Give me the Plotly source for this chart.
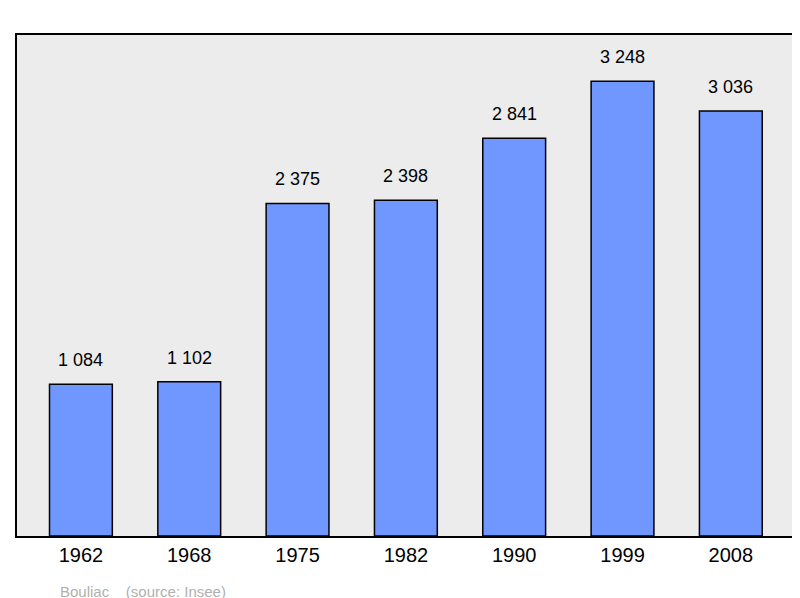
import plotly.graph_objects as go

years = ["1962", "1968", "1975", "1982", "1990", "1999", "2008"]
population = [1084, 1102, 2375, 2398, 2841, 3248, 3036]
labels = ["1 084", "1 102", "2 375", "2 398", "2 841", "3 248", "3 036"]

xs = list(range(len(years)))
fig = go.Figure(go.Bar(
    x=xs, y=population, width=0.58,
    marker=dict(color="#7097ff", line=dict(color="black", width=1.5)),
))
ann = [dict(x=x, y=v, text=t, xref="x", yref="y", showarrow=False, yanchor="bottom",
            yshift=12, font=dict(size=18, color="black", family="Liberation Sans"))
       for x, v, t in zip(xs, population, labels)]
ann.append(dict(text="Bouliac &nbsp;&nbsp; (source: Insee)", xref="paper", yref="paper",
                x=0.052, y=-0.11, xanchor="left", yanchor="middle", showarrow=False,
                font=dict(size=15, color="#b0b0b0", family="Liberation Sans")))
fig.update_layout(
    width=800, height=598, margin=dict(l=9, r=10, t=27, b=70, autoexpand=False),
    paper_bgcolor="white", plot_bgcolor="#ececec", showlegend=False,
    xaxis=dict(range=[-0.59, 6.62], tickvals=xs, ticktext=years, automargin=False,
               tickfont=dict(size=20, color="black", family="Liberation Sans"),
               showgrid=False, zeroline=False, ticks="", showline=True, linecolor="black",
               linewidth=2, mirror=True),
    yaxis=dict(range=[0, 3578], showticklabels=False, showgrid=False, zeroline=False,
               automargin=False, showline=True, linecolor="black", linewidth=2, mirror=True),
    annotations=ann,
)
fig.write_html("out.html")
